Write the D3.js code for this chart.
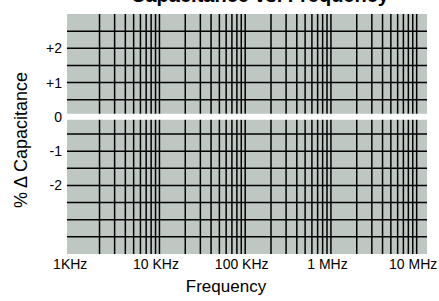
<!DOCTYPE html>
<html><head><meta charset="utf-8">
<script src="https://cdn.jsdelivr.net/npm/d3@7"></script>
<style>body{margin:0;background:#fff}svg{display:block}text{font-family:"Liberation Sans",Arial,Helvetica,sans-serif}</style>
</head><body><svg id="c" width="439" height="301"></svg>
<script>
// Data
const xDomain = [835, 1.32e7];             // Hz, plot extent
const decades = [1e3, 1e4, 1e5, 1e6];      // decade starts
const multipliers = [2,3,4,5,6,7,8,9,10];  // grid lines per decade
const xTickValues = [1e3, 1e4, 1e5, 1e6, 1e7];
const xTickLabels = ["1KHz", "10 KHz", "100 KHz", "1 MHz", "10 MHz"];
const yDomain = [-4, 3];
const yGridValues = [-3.5,-3,-2.5,-2,-1.5,-1,-0.5,0.5,1,1.5,2,2.5];
const yTickValues = [2, 1, 0, -1, -2];
const yTickLabels = ["+2", "+1", "0", "-1", "-2"];
const zeroValue = [0];

const svg = d3.select("#c");
const L = 67, R = 427, T = 14, B = 254;
const x = d3.scaleLog().domain(xDomain).range([L, R]);
const y = d3.scaleLinear().domain(yDomain).range([B, T]);

svg.append("rect").attr("x", L).attr("y", T).attr("width", R - L).attr("height", B - T).attr("fill", "#bfc7c3");

const vLines = [];
decades.forEach(d => multipliers.forEach(m => vLines.push(d * m)));
svg.append("g").selectAll("line").data(vLines).join("line")
  .attr("x1", d => x(d)).attr("x2", d => x(d)).attr("y1", T).attr("y2", B)
  .attr("stroke", "#000").attr("stroke-width", 1.5);
svg.append("g").selectAll("line").data(yGridValues).join("line")
  .attr("x1", L).attr("x2", R).attr("y1", d => y(d)).attr("y2", d => y(d))
  .attr("stroke", "#000").attr("stroke-width", 1.5);
svg.append("g").selectAll("line").data(zeroValue).join("line")
  .attr("x1", L).attr("x2", R).attr("y1", d => y(d)).attr("y2", d => y(d))
  .attr("stroke", "#fff").attr("stroke-width", 6);

// Axes
const yAxis = d3.axisLeft(y).tickValues(yTickValues).tickSize(0).tickPadding(5)
  .tickFormat((d, i) => yTickLabels[i]);
const gy = svg.append("g").attr("transform", `translate(${L},0)`).call(yAxis);
gy.select(".domain").remove();
gy.selectAll("text").attr("font-size", 14).attr("fill", "#000").style("font-family", '"Liberation Sans",Arial,sans-serif');

const xAxis = d3.axisBottom(x).tickValues(xTickValues).tickSize(0).tickPadding(5)
  .tickFormat((d, i) => xTickLabels[i]);
const gx = svg.append("g").attr("transform", `translate(0,${B})`).call(xAxis);
gx.select(".domain").remove();
gx.selectAll("text").attr("font-size", 14).attr("fill", "#000").attr("dx", -4).style("font-family", '"Liberation Sans",Arial,sans-serif');

svg.append("text").attr("x", 226).attr("y", 292).attr("text-anchor", "middle")
  .attr("font-size", 17).text("Frequency");
svg.append("text").attr("transform", "translate(27,140) rotate(-90)").attr("text-anchor", "middle")
  .attr("font-size", 18).text("% \u0394 Capacitance");
svg.append("text").attr("x", 260).attr("y", 2).attr("text-anchor", "middle")
  .attr("font-size", 20).attr("font-weight", "bold").text("Capacitance vs. Frequency");
</script></body></html>
